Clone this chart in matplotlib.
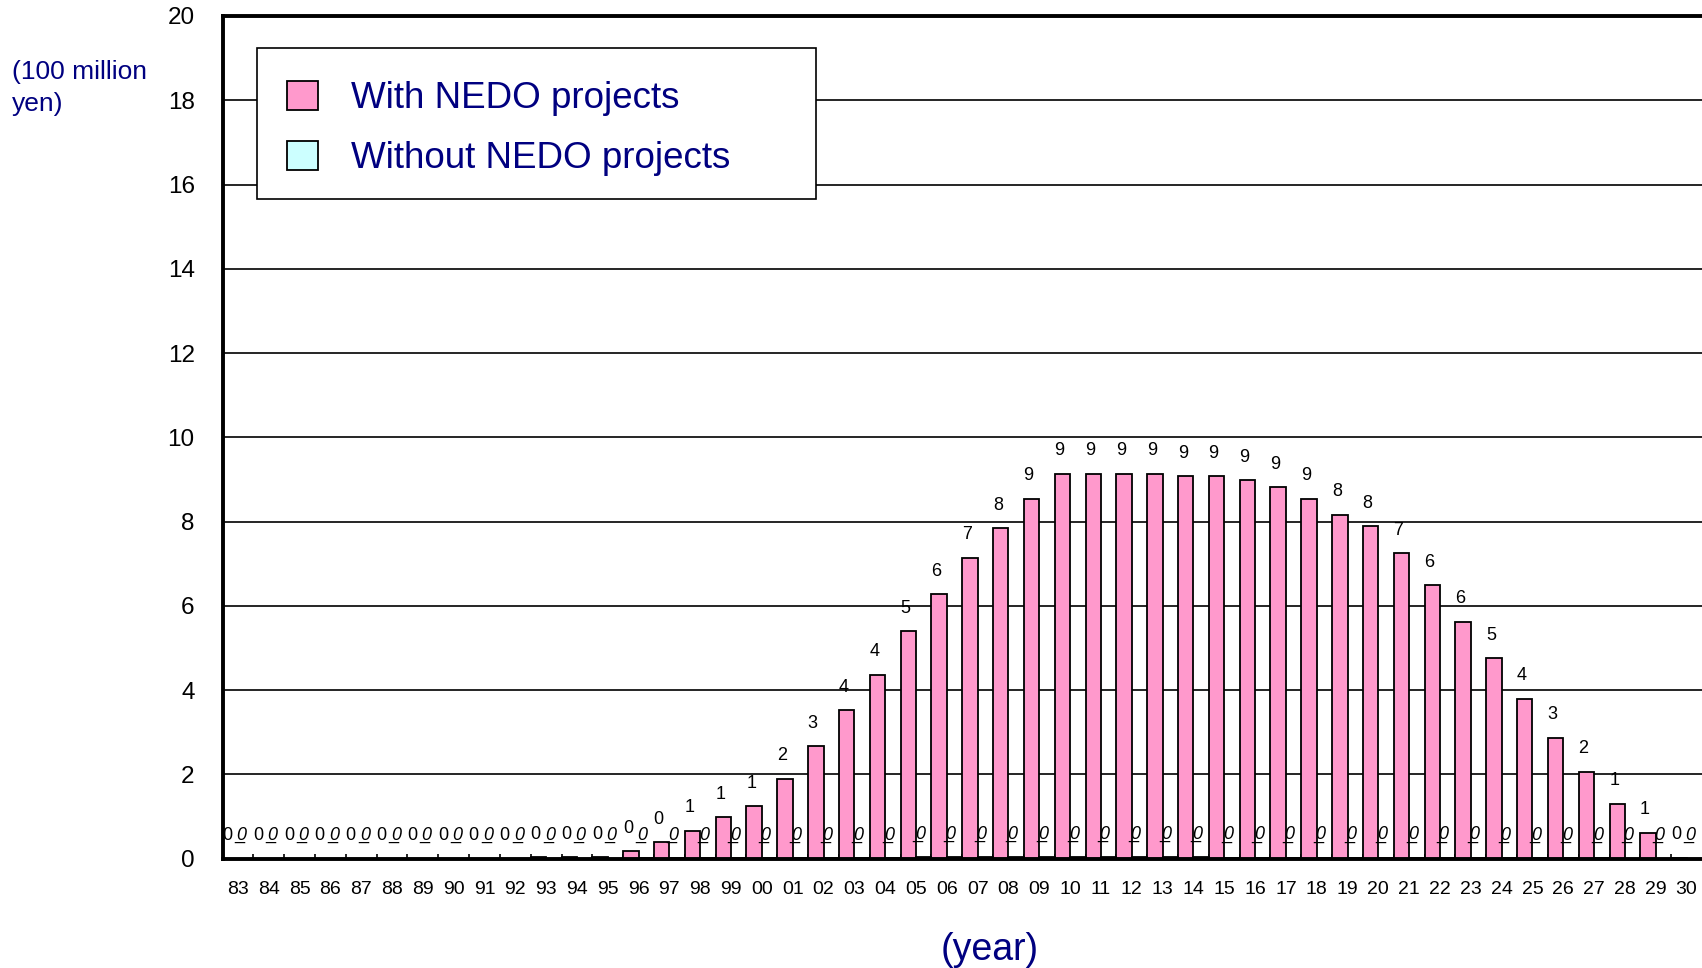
import matplotlib
matplotlib.use("Agg")
import matplotlib.pyplot as plt
from matplotlib.ticker import FixedLocator, NullFormatter
from matplotlib.patches import Rectangle
import numpy as np

plt.rcParams['font.family'] = ['Liberation Sans', 'DejaVu Sans']

# Fiscal years shown on the x axis
years = ['83', '84', '85', '86', '87', '88', '89', '90', '91', '92',
         '93', '94', '95', '96', '97', '98', '99', '00', '01', '02',
         '03', '04', '05', '06', '07', '08', '09', '10', '11', '12',
         '13', '14', '15', '16', '17', '18', '19', '20', '21', '22',
         '23', '24', '25', '26', '27', '28', '29', '30']

# Annual effect (100 million yen)
with_nedo = [0, 0, 0, 0, 0, 0, 0, 0, 0, 0,
             0.03, 0.03, 0.03, 0.18, 0.39, 0.66, 0.98, 1.25, 1.90, 2.67,
             3.52, 4.37, 5.40, 6.28, 7.14, 7.84, 8.54, 9.14, 9.14, 9.14,
             9.14, 9.08, 9.08, 8.98, 8.81, 8.54, 8.16, 7.89, 7.25, 6.49,
             5.62, 4.76, 3.80, 2.87, 2.06, 1.30, 0.62, 0.02]

without_nedo = [0, 0, 0, 0, 0, 0, 0, 0, 0, 0,
                0, 0, 0, 0.01, 0.01, 0.01, 0.01, 0.01, 0.01, 0.01,
                0.01, 0.01, 0.03, 0.04, 0.04, 0.04, 0.04, 0.04, 0.04, 0.03,
                0.03, 0.03, 0.02, 0.02, 0.02, 0.02, 0.02, 0.02, 0.02, 0.02,
                0.02, 0.01, 0.01, 0.01, 0.01, 0.0, 0.0, 0.0]

series_names = ['With NEDO projects', 'Without NEDO projects']
y_ticks = [0, 2, 4, 6, 8, 10, 12, 14, 16, 18, 20]

PINK = '#FF99CC'
CYAN = '#CCFFFF'
NAVY = '#000080'

W, H = 1702, 968
fig = plt.figure(figsize=(W / 100, H / 100), dpi=100)
ax = fig.add_axes([222.5 / W, 109.3 / H, (W - 222.5) / W, (858.7 - 16) / H])

x = np.arange(len(years))
bw = 0.5
b1 = ax.bar(x - bw / 2, with_nedo, width=bw, color=PINK, edgecolor='black',
            linewidth=1.3, zorder=3, label=series_names[0])
b2 = ax.bar(x + bw / 2, without_nedo, width=bw, color=CYAN, edgecolor='black',
            linewidth=1.3, zorder=3, label=series_names[1])

# value labels
LABEL_FS = 13
for xi, v in zip(x, with_nedo):
    ax.annotate(f"{v:.0f}", (xi - bw / 2, v), xytext=(-3, 18.5),
                textcoords='offset pixels', ha='center', va='baseline',
                fontsize=LABEL_FS, color='black', zorder=5, clip_on=True,
                annotation_clip=False)
for xi, v in zip(x, without_nedo):
    ax.annotate(f"{v:.0f}", (xi + bw / 2, v), xytext=(-4, 18.5),
                textcoords='offset pixels', ha='center', va='baseline',
                fontsize=LABEL_FS, fontstyle='italic', color='black', zorder=5,
                clip_on=True, annotation_clip=False)
    ax.annotate("_", (xi + bw / 2, v), xytext=(-6, 19.5),
                textcoords='offset pixels', ha='center', va='baseline',
                fontsize=LABEL_FS, color='black', zorder=5, clip_on=True,
                annotation_clip=False)

ax.set_xlim(-0.5, len(years) - 0.5)
ax.set_ylim(0, 20)

ax.set_xticks(x)
ax.set_xticklabels(years, fontsize=14)
ax.xaxis.set_minor_locator(FixedLocator(x[:-1] + 0.5))
ax.xaxis.set_minor_formatter(NullFormatter())
ax.tick_params(axis='x', which='major', length=0, pad=16)
ax.tick_params(axis='x', which='minor', direction='in', length=3.8,
               width=1.2, color='black')

ax.set_yticks(y_ticks)
ax.set_yticklabels([str(t) for t in y_ticks], fontsize=17.5)
ax.tick_params(axis='y', length=0, pad=20)

ax.grid(axis='y', color='black', linewidth=1.2, zorder=1)
ax.set_axisbelow(True)

for side in ('left', 'bottom', 'top'):
    ax.spines[side].set_linewidth(2.8)
    ax.spines[side].set_color('black')
    ax.spines[side].set_zorder(6)
ax.spines['right'].set_visible(False)

# axis titles
fig.text(12 / W, 1 - 60 / H, "(100 million\nyen)", ha='left', va='top',
         fontsize=19, color=NAVY, linespacing=1.4)
fig.text(990 / W, 1 - 950 / H, "(year)", ha='center', va='center',
         fontsize=27, color=NAVY)

# legend box and entries
fig.add_artist(Rectangle((256.7 / W, 1 - 199.3 / H), (816 - 256.7) / W, 151 / H,
                         transform=fig.transFigure, facecolor='white',
                         edgecolor='black', linewidth=1.2, zorder=7))
leg = fig.legend(handles=[b1, b2], labels=series_names,
                 loc='upper left', bbox_to_anchor=(286.7 / W, 1 - 81 / H),
                 borderaxespad=0, borderpad=0, fontsize=26.5,
                 frameon=False, labelspacing=0.66,
                 handlelength=0.84, handleheight=0.84, handletextpad=0.9)
leg.set_zorder(8)
for t in leg.get_texts():
    t.set_color(NAVY)

fig.savefig('out.png', dpi=100)
